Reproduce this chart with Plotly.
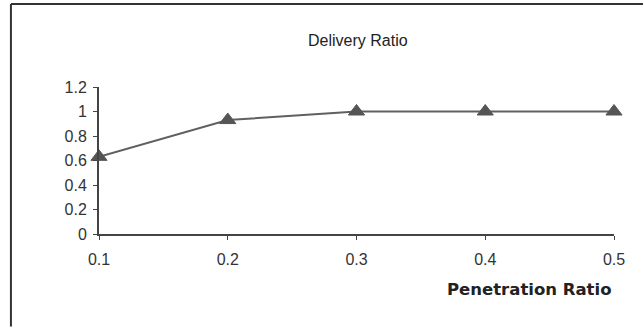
import plotly.graph_objects as go

# Delivery ratio versus penetration ratio
penetration = [0.1, 0.2, 0.3, 0.4, 0.5]
delivery = [0.63, 0.93, 1.0, 1.0, 1.0]
x_ticks = [0.1, 0.2, 0.3, 0.4, 0.5]
x_tick_text = ["0.1", "0.2", "0.3", "0.4", "0.5"]
y_ticks = [0, 0.2, 0.4, 0.6, 0.8, 1.0, 1.2]
y_tick_text = ["0", "0.2", "0.4", "0.6", "0.8", "1", "1.2"]

font = "Liberation Sans, Arial, sans-serif"
axis_color = "#444444"
text_color = "#333333"

fig = go.Figure()
fig.add_trace(go.Scatter(
    x=penetration, y=delivery, mode="lines+markers",
    line=dict(color="#606060", width=2),
    marker=dict(symbol="triangle-up", size=14, color="#555555",
                line=dict(color="#555555", width=1)),
    cliponaxis=False, showlegend=False,
))

fig.update_layout(
    width=643, height=329,
    margin=dict(l=99, r=29, t=87, b=95),
    paper_bgcolor="white", plot_bgcolor="white",
    font=dict(family=font, size=16, color=text_color),
    xaxis=dict(
        range=[0.1, 0.5], tickvals=x_ticks, ticktext=x_tick_text,
        showgrid=False, zeroline=False, showline=True, linecolor=axis_color,
        linewidth=2, ticks="outside", ticklen=4, tickcolor=axis_color,
        ticklabelstandoff=6,
        tickfont=dict(size=16, color=text_color), fixedrange=True,
    ),
    yaxis=dict(
        range=[0, 1.2], tickvals=y_ticks, ticktext=y_tick_text,
        showgrid=False, zeroline=False, showline=True, linecolor=axis_color,
        linewidth=2, ticks="outside", ticklen=4, tickcolor=axis_color,
        ticklabelstandoff=3,
        tickfont=dict(size=16, color=text_color), fixedrange=True,
    ),
    shapes=[
        # chart frame: top edge and left edge
        dict(type="line", xref="paper", yref="paper",
             x0=-0.171, x1=1.06, y0=1.565, y1=1.565,
             line=dict(color="#333333", width=2)),
        dict(type="line", xref="paper", yref="paper",
             x0=-0.171, x1=-0.171, y0=-0.63, y1=1.565,
             line=dict(color="#333333", width=2)),
    ],
    annotations=[
        dict(text="Delivery Ratio", xref="paper", yref="paper",
             x=(358 - 99) / 515, y=(234 - 40) / 147,
             xanchor="center", yanchor="middle", showarrow=False,
             font=dict(size=16, color="#222222")),
        dict(text="<b>Penetration Ratio</b>", xref="paper", yref="paper",
             x=(529 - 99) / 515, y=(234 - 289) / 147,
             xanchor="center", yanchor="middle", showarrow=False,
             font=dict(family="DejaVu Sans", size=16.5, color="#222222")),
    ],
)

# keep the page free of margins and scrollbars
page_style = (
    "document.documentElement.style.overflow='hidden';"
    "document.body.style.margin='0';"
    "document.body.style.overflow='hidden';"
)
fig.write_html("out.html", post_script=page_style)
